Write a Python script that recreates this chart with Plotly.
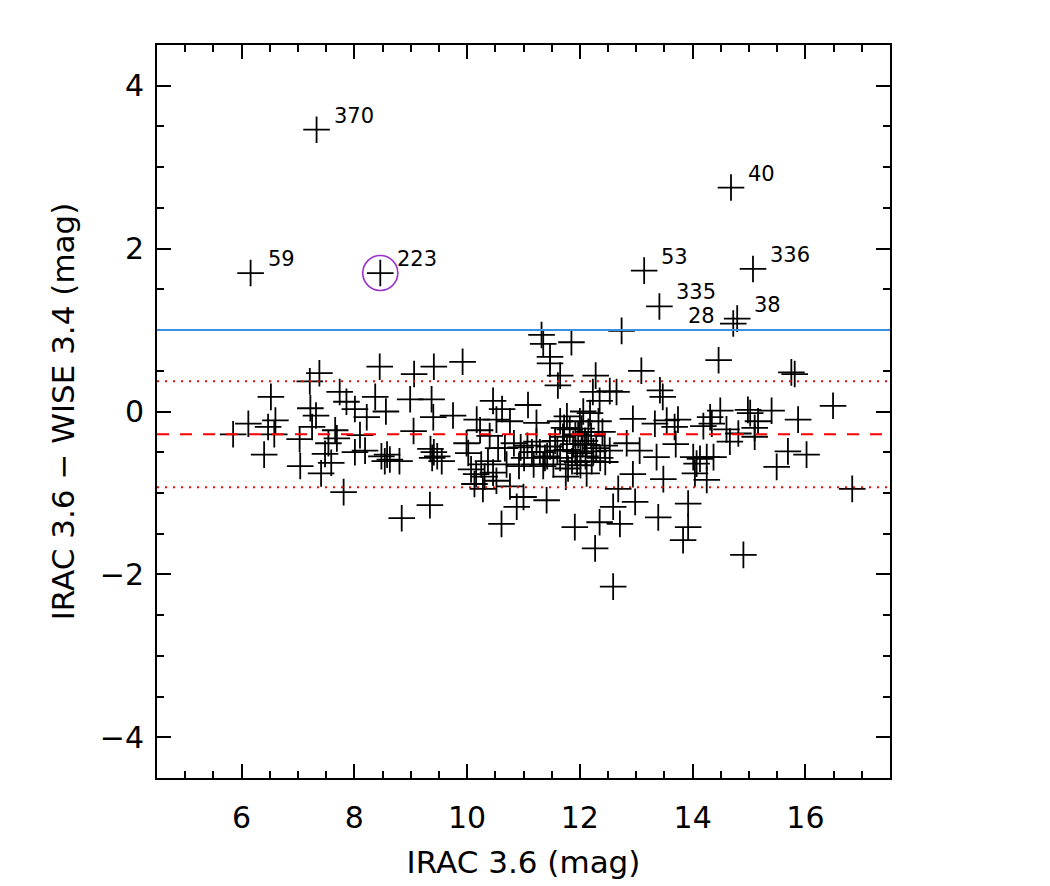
import plotly.graph_objects as go

# ---------------- data ----------------
irac = [5.85, 6.12, 6.40, 6.52, 6.47, 6.60, 6.58, 7.03, 7.04, 7.38, 7.21, 7.22, 7.32, 7.25,
        7.41, 7.48, 7.54, 7.59, 7.74, 7.81,
        8.45, 9.06, 9.41, 9.92, 8.37, 8.99, 9.37, 8.56, 7.86, 8.01, 8.22, 7.66, 7.69, 8.10,
        8.01, 8.19, 8.48, 8.58, 8.63, 8.54, 8.80, 9.05, 9.40, 9.75, 9.35, 9.41, 9.47, 9.38,
        9.55, 9.99, 10.02, 10.17, 10.23, 10.46, 10.62, 10.52, 10.07, 10.16, 10.25, 10.31,
        10.37, 10.46, 10.52, 10.13, 10.28, 9.34, 8.84, 10.61,
        11.32, 11.35, 11.85, 11.47, 11.47, 11.65, 11.61, 12.28, 13.09, 12.23, 12.35,
        12.53, 12.65, 13.42, 13.47, 11.08, 10.76, 11.23, 11.65, 11.82, 12.00, 12.06, 12.18,
        12.33, 11.77, 11.92, 12.94, 13.33, 13.54, 13.68, 10.83, 10.95, 11.07, 11.23, 11.47,
        11.53, 11.65, 11.77, 11.86, 12.01, 12.01, 12.12, 12.24, 12.36, 11.35, 11.18, 12.83,
        13.06, 13.36, 12.94, 13.48, 12.68, 10.76, 11.00, 10.88, 11.41, 11.91, 12.35, 12.71,
        12.98, 12.59, 12.27, 12.59, 13.39, 10.67, 11.75, 12.12,
        11.70, 11.97, 12.09, 12.21, 12.29, 11.79, 11.92, 11.56, 12.03, 12.15, 12.44, 12.53,
        11.29, 11.38, 11.01, 10.92,
        12.05, 12.10, 11.95, 12.20, 11.88, 11.60, 11.42, 11.15, 12.40, 12.45, 11.72, 10.70,
        10.55, 10.40, 13.70,
        14.46, 15.75, 15.81, 16.49, 15.87, 15.02, 15.16, 14.98, 15.10, 15.40, 14.49, 14.31,
        14.34, 14.19, 14.81, 14.66, 15.10, 15.69, 16.02, 15.49, 14.01, 14.13, 14.25, 14.37,
        14.07, 14.04, 14.25, 16.83, 13.92, 13.92, 13.83, 14.90, 13.74, 14.60,
        12.74]
color_diff = [-0.28, -0.15, -0.53, 0.18, -0.19, -0.11, -0.28, -0.34, -0.67, 0.47, 0.37, 0.04, -0.05, -0.19,
              -0.76, -0.52, -0.39, -0.63, 0.24, -0.99,
              0.55, 0.46, 0.55, 0.61, 0.18, 0.15, 0.15, 0.00, 0.12, 0.03, -0.07, -0.23, -0.33, -0.29,
              -0.50, -0.48, -0.55, -0.53, -0.59, -0.61, -0.61, -0.24, -0.07, -0.05, -0.46, -0.50, -0.55, -0.57,
              -0.61, -0.39, -0.51, -0.10, -0.23, 0.13, 0.03, -0.10, -0.71, -0.77, -0.65, -0.80,
              -0.61, -0.75, -0.85, -0.89, -0.95, -1.15, -1.31, -1.38,
              0.94, 0.83, 0.85, 0.67, 0.59, 0.44, 0.32, 0.44, 0.50, 0.24, 0.13,
              0.25, 0.24, 0.26, 0.18, 0.08, -0.12, -0.14, -0.12, -0.22, -0.12, 0.00, -0.02,
              -0.12, -0.06, -0.28, -0.09, -0.15, -0.11, -0.19, -0.39, -0.44, -0.42, -0.37, -0.43,
              -0.65, -0.57, -0.47, -0.61, -0.51, -0.66, -0.41, -0.49, -0.57, -0.67, -0.65, -0.39,
              -0.48, -0.56, -0.77, -0.83, -0.95, -0.92, -1.05, -1.17, -1.09, -1.42, -1.36, -1.38,
              -1.11, -1.17, -1.68, -2.15, -1.30, -0.45, -0.80, -0.76,
              -0.31, -0.29, -0.36, -0.61, -0.45, -0.70, -0.49, -0.36, -0.21, -0.25, -0.42, -0.48,
              -0.50, -0.57, -0.57, -0.67,
              -0.40, -0.55, -0.62, -0.30, -0.40, -0.48, -0.55, -0.50, -0.25, -0.62, -0.20, -0.65,
              -0.45, -0.30, -0.40,
              0.63, 0.48, 0.46, 0.07, -0.10, -0.02, -0.12, 0.02, -0.20, 0.01, 0.01, -0.07,
              -0.15, -0.18, -0.27, -0.37, -0.31, -0.49, -0.53, -0.68, -0.56, -0.58, -0.56, -0.56,
              -0.64, -0.76, -0.84, -0.95, -1.13, -1.42, -1.58, -1.76, -0.10, -0.22,
              0.99]

# labelled outliers
out_id = ["370", "59", "223", "40", "53", "336", "335", "38", "28"]
out_irac = [7.33, 6.16, 8.46, 14.68, 13.14, 15.07, 13.41, 14.79, 14.72]
out_diff = [3.46, 1.70, 1.70, 2.75, 1.73, 1.75, 1.29, 1.14, 1.08]
circled_id = "223"

# reference lines
cut_line = 1.0          # blue solid
mean_off = -0.28        # red dashed
sigma_lines = [0.37, -0.93]  # red dotted

x_ticks = [6, 8, 10, 12, 14, 16]
y_ticks = [-4, -2, 0, 2, 4]
x_range = [4.5, 17.5]
y_range = [-4.5, 4.5]

# ---------------- figure ----------------
FONT = "DejaVu Sans"
fig = go.Figure()

cross = dict(symbol="cross-thin", size=19, color="black",
             line=dict(color="black", width=1.8))

fig.add_trace(go.Scatter(x=irac, y=color_diff, mode="markers", marker=cross,
                         showlegend=False, hoverinfo="x+y"))
fig.add_trace(go.Scatter(x=out_irac, y=out_diff, mode="markers", marker=cross,
                         text=out_id, showlegend=False, hoverinfo="text+x+y"))

ci = out_id.index(circled_id)
fig.add_trace(go.Scatter(x=[out_irac[ci]], y=[out_diff[ci]], mode="markers",
                         marker=dict(symbol="circle-open", size=35, color="#9a32cd",
                                     line=dict(color="#9a32cd", width=1.6)),
                         showlegend=False, hoverinfo="skip"))

# horizontal lines
fig.add_shape(type="line", x0=x_range[0], x1=x_range[1], y0=cut_line, y1=cut_line,
              line=dict(color="#3d8fe0", width=2), layer="above")
fig.add_shape(type="line", x0=x_range[0], x1=x_range[1], y0=mean_off, y1=mean_off,
              line=dict(color="#ff0000", width=2, dash="12px,11px"), layer="above")
for s in sigma_lines:
    fig.add_shape(type="line", x0=x_range[0], x1=x_range[1], y0=s, y1=s,
                  line=dict(color="#ff0000", width=2, dash="2px,6px"), layer="above")

# labels for outliers
label_shift = {"28": (-16, 8, "right")}
for lab, xx, yy in zip(out_id, out_irac, out_diff):
    dx, dy, anc = label_shift.get(lab, (15, 14, "left"))
    fig.add_annotation(x=xx, y=yy, text=lab, showarrow=False, xanchor=anc,
                       yanchor="middle", xshift=dx, yshift=dy,
                       font=dict(family=FONT, size=21, color="black"))

axis_common = dict(showline=True, linecolor="black", linewidth=2, mirror="allticks",
                   ticks="inside", ticklen=14, tickwidth=1.8, tickcolor="black",
                   showgrid=False, zeroline=False,
                   tickfont=dict(family=FONT, size=30, color="black"),
                   minor=dict(ticks="inside", ticklen=7, tickwidth=1.8, tickcolor="black",
                              dtick=0.5, showgrid=False))

fig.update_xaxes(range=x_range, tickvals=x_ticks, ticklabelstandoff=12,
                 title=dict(text="IRAC 3.6 (mag)", font=dict(family=FONT, size=31, color="black"),
                            standoff=17),
                 **axis_common)
fig.update_yaxes(range=y_range, tickvals=y_ticks, ticklabelstandoff=5,
                 title=dict(text="IRAC 3.6 − WISE 3.4 (mag)",
                            font=dict(family=FONT, size=31, color="black"), standoff=16),
                 **axis_common)

fig.update_layout(width=1050, height=886, autosize=False,
                  margin=dict(l=157, r=160, t=45, b=108),
                  paper_bgcolor="white", plot_bgcolor="white",
                  font=dict(family=FONT, color="black"))

fig.write_html("out.html")
